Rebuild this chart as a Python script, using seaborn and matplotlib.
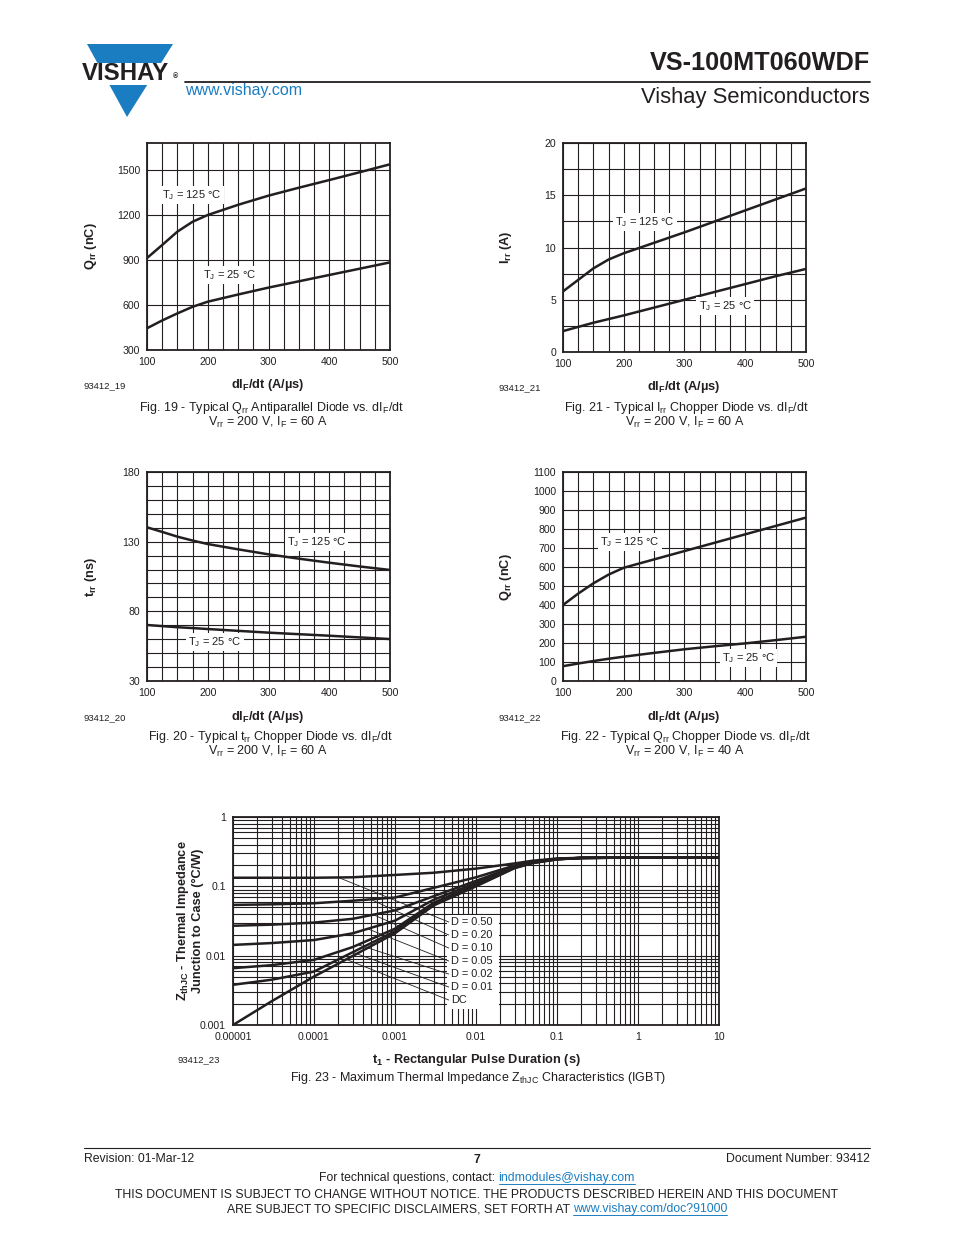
import numpy as np
import pandas as pd
import seaborn as sns
import matplotlib
matplotlib.use('Agg')
import matplotlib.pyplot as plt
from matplotlib.patches import Polygon, Rectangle

W, H = 954, 1235
INK = '#231f20'
BLUE = '#1a7dc1'

# ---- data ----
didt = [100, 125, 150, 175, 200, 250, 300, 350, 400, 450, 500]

qrr_anti_125 = [913, 1000, 1089, 1155, 1200, 1268, 1329, 1382, 1433, 1485, 1538]
qrr_anti_25 = [445, 497, 544, 588, 622, 670, 716, 758, 800, 842, 884]

irr_chop_125 = [5.8, 6.9, 8.0, 8.85, 9.45, 10.45, 11.45, 12.5, 13.55, 14.6, 15.65]
irr_chop_25 = [2.0, 2.4, 2.8, 3.15, 3.5, 4.25, 5.0, 5.75, 6.5, 7.25, 7.95]

trr_chop_125 = [140.3, 137.0, 133.6, 130.8, 128.3, 124.5, 120.9, 117.8, 114.9, 112.2, 109.7]
trr_chop_25 = [70.2, 69.4, 68.6, 68.0, 67.3, 66.0, 64.7, 63.6, 62.5, 61.3, 60.1]

qrr_chop_125 = [400, 460, 514, 560, 596, 640, 684, 728, 772, 816, 860]
qrr_chop_25 = [78, 92, 105, 117, 128, 148, 167, 183, 198, 215, 233]

t_pulse = [1e-5, 3e-5, 1e-4, 3e-4, 1e-3, 3e-3, 1e-2, 3e-2, 5e-2, 1e-1, 2e-1, 1, 10]
zth_d050 = [0.133, 0.133, 0.133, 0.135, 0.146, 0.157, 0.180, 0.214, 0.234, 0.252, 0.258, 0.26, 0.26]
zth_d020 = [0.054, 0.055, 0.057, 0.062, 0.069, 0.095, 0.135, 0.200, 0.226, 0.249, 0.257, 0.26, 0.26]
zth_d010 = [0.027, 0.028, 0.030, 0.034, 0.045, 0.072, 0.120, 0.194, 0.223, 0.248, 0.257, 0.26, 0.26]
zth_d005 = [0.0143, 0.0152, 0.0168, 0.021, 0.032, 0.064, 0.112, 0.190, 0.221, 0.247, 0.257, 0.26, 0.26]
zth_d002 = [0.0066, 0.0073, 0.0087, 0.0133, 0.0245, 0.058, 0.106, 0.187, 0.219, 0.246, 0.257, 0.26, 0.26]
zth_d001 = [0.0038, 0.0045, 0.0059, 0.0112, 0.0225, 0.056, 0.103, 0.185, 0.218, 0.246, 0.257, 0.26, 0.26]
zth_dc = [0.001, 0.0022, 0.005, 0.0099, 0.021, 0.053, 0.100, 0.183, 0.216, 0.245, 0.256, 0.26, 0.26]
duty_labels = ['D = 0.50', 'D = 0.20', 'D = 0.10', 'D = 0.05', 'D = 0.02', 'D = 0.01', 'DC']
leader_t = [2e-4, 5e-4, 5.4e-4, 4.6e-4, 3.5e-4, 3e-4, 2.5e-4]

sns.set_theme(style='white')
plt.rcParams['font.family'] = ['Liberation Sans', 'DejaVu Sans']
plt.rcParams['mathtext.fontset'] = 'custom'
plt.rcParams['mathtext.rm'] = 'Liberation Sans'
plt.rcParams['mathtext.default'] = 'regular'

fig = plt.figure(figsize=(W / 100, H / 100), dpi=100)
bg = fig.add_axes([0, 0, 1, 1])
bg.set_xlim(0, W)
bg.set_ylim(H, 0)
bg.axis('off')


def put(x, y, s, **kw):
    kw.setdefault('color', INK)
    kw.setdefault('va', 'center')
    return bg.text(x, y, s, **kw)


def px_axes(l, t, r, b):
    return fig.add_axes([l / W, 1 - b / H, (r - l) / W, (b - t) / H])


def style_axes(ax):
    for s in ax.spines.values():
        s.set_color(INK)
        s.set_linewidth(1.3)
    ax.grid(True, which='both', color=INK, lw=0.8)
    ax.set_axisbelow(True)
    ax.tick_params(which='both', length=0, labelsize=7.6, colors=INK, pad=5)
    ax.set_xlabel('')
    ax.set_ylabel('')


def diode_panel(box, y125, y25, ylim, yticks, yminor, pos125, pos25):
    ax = px_axes(*box)
    sns.lineplot(x=didt, y=y125, color=INK, lw=1.8, ax=ax)
    sns.lineplot(x=didt, y=y25, color=INK, lw=1.8, ax=ax)
    ax.set_xlim(100, 500)
    ax.set_ylim(*ylim)
    ax.set_xticks([100, 200, 300, 400, 500])
    ax.set_xticks(np.arange(125, 500, 25), minor=True)
    ax.set_yticks(yticks)
    if yminor is not None:
        ax.set_yticks(yminor, minor=True)
    style_axes(ax)
    box_kw = dict(fc='white', ec='none', pad=1.5)
    ax.text(*pos125, 'T$_J$ = 125 °C', fontsize=8, ha='center', va='center', color=INK, bbox=box_kw)
    ax.text(*pos25, 'T$_J$ = 25 °C', fontsize=8, ha='center', va='center', color=INK, bbox=box_kw)
    return ax


# Fig. 19
diode_panel((147, 143, 390, 350), qrr_anti_125, qrr_anti_25, (300, 1680),
            [300, 600, 900, 1200, 1500], None, (174, 1333), (236, 800))
# Fig. 21
diode_panel((563, 143, 806, 352), irr_chop_125, irr_chop_25, (0, 20),
            [0, 5, 10, 15, 20], np.arange(2.5, 20, 5), (235, 12.45), (367, 4.4))
# Fig. 20
diode_panel((147, 472, 390, 681), trr_chop_125, trr_chop_25, (30, 180),
            [30, 80, 130, 180], np.arange(40, 180, 10), (379, 129.5), (212, 57.8))
# Fig. 22
diode_panel((563, 472, 806, 681), qrr_chop_125, qrr_chop_25, (0, 1100),
            np.arange(0, 1101, 100), None, (210, 730), (405, 123))

# Fig. 23 thermal impedance
ax = px_axes(233, 817, 719, 1025)
ax.set_xscale('log')
ax.set_yscale('log')
zth_curves = [zth_d050, zth_d020, zth_d010, zth_d005, zth_d002, zth_d001, zth_dc]
for z in zth_curves:
    sns.lineplot(x=t_pulse, y=z, color=INK, lw=1.8, ax=ax)
ax.set_xlim(1e-5, 10)
ax.set_ylim(1e-3, 1)
xt = [1e-5, 1e-4, 1e-3, 1e-2, 1e-1, 1, 10]
ax.set_xticks(xt, labels=['0.00001', '0.0001', '0.001', '0.01', '0.1', '1', '10'])
ax.set_xticks([m * 10.0 ** e for e in range(-5, 1) for m in range(2, 10)], minor=True)
ax.set_yticks([1e-3, 1e-2, 1e-1, 1], labels=['0.001', '0.01', '0.1', '1'])
ax.set_yticks([m * 10.0 ** e for e in range(-3, 0) for m in range(2, 10)], minor=True)
ax.tick_params(which='minor', labelleft=False, labelbottom=False)
style_axes(ax)
ax.add_patch(Rectangle((0.441, 0.075), 0.106, 0.455, transform=ax.transAxes,
                       fc='white', ec='none', zorder=2.5))
for i, (lab, z, tl) in enumerate(zip(duty_labels, zth_curves, leader_t)):
    yl = 0.495 - i * 0.0625
    zl = 10 ** np.interp(np.log10(tl), np.log10(t_pulse), np.log10(z))
    ax.annotate('', xy=(tl, zl), xytext=(0.444, yl), textcoords='axes fraction',
                arrowprops=dict(arrowstyle='-', lw=0.6, color=INK, shrinkA=0, shrinkB=0),
                zorder=2.6)
    ax.text(0.449, yl, lab, transform=ax.transAxes, fontsize=7.9, va='center',
            color=INK, zorder=3)

# ---- axis labels and captions ----
lab_kw = dict(fontsize=9.2, fontweight='bold', ha='center')
cap_kw = dict(fontsize=9, ha='center')
small = dict(fontsize=6.8)

put(91, 246, 'Q$_{rr}$ (nC)', rotation=90, **lab_kw)
put(268, 385, 'dI$_F$/dt (A/µs)', **lab_kw)
put(84, 386, '93412_19', **small)
put(271, 408, 'Fig. 19 - Typical Q$_{rr}$ Antiparallel Diode vs. dI$_F$/dt', **cap_kw)
put(268, 422, 'V$_{rr}$ = 200 V, I$_F$ = 60 A', **cap_kw)

put(506, 247, 'I$_{rr}$ (A)', rotation=90, **lab_kw)
put(684, 387, 'dI$_F$/dt (A/µs)', **lab_kw)
put(499, 388, '93412_21', **small)
put(686, 408, 'Fig. 21 - Typical I$_{rr}$ Chopper Diode vs. dI$_F$/dt', **cap_kw)
put(685, 422, 'V$_{rr}$ = 200 V, I$_F$ = 60 A', **cap_kw)

put(91, 577, 't$_{rr}$ (ns)', rotation=90, **lab_kw)
put(268, 717, 'dI$_F$/dt (A/µs)', **lab_kw)
put(84, 718, '93412_20', **small)
put(270, 737, 'Fig. 20 - Typical t$_{rr}$ Chopper Diode vs. dI$_F$/dt', **cap_kw)
put(268, 751, 'V$_{rr}$ = 200 V, I$_F$ = 60 A', **cap_kw)

put(506, 577, 'Q$_{rr}$ (nC)', rotation=90, **lab_kw)
put(684, 717, 'dI$_F$/dt (A/µs)', **lab_kw)
put(499, 718, '93412_22', **small)
put(686, 737, 'Fig. 22 - Typical Q$_{rr}$ Chopper Diode vs. dI$_F$/dt', **cap_kw)
put(685, 751, 'V$_{rr}$ = 200 V, I$_F$ = 40 A', **cap_kw)

put(183, 921, 'Z$_{thJC}$ - Thermal Impedance', rotation=90, **lab_kw)
put(198, 921, 'Junction to Case (°C/W)', rotation=90, **lab_kw)
put(476, 1060, 't$_1$ - Rectangular Pulse Duration (s)', **lab_kw)
put(178, 1060, '93412_23', **small)
put(478, 1078, 'Fig. 23 - Maximum Thermal Impedance Z$_{thJC}$ Characteristics (IGBT)', **cap_kw)

# ---- header ----
bg.add_patch(Polygon([(87, 44), (173, 44), (127, 117)], closed=True, fc=BLUE, ec='none'))
bg.add_patch(Rectangle((80, 62.5), 100, 22, fc='white', ec='none'))
put(82, 73.5, 'VISHAY', fontsize=17.3, fontweight='bold', color='#231f20')
put(172.5, 77, '®', fontsize=5, fontweight='bold')
bg.plot([185, 870], [82, 82], color=INK, lw=1.3)
put(185, 91, 'www.vishay.com', fontsize=11.5, color=BLUE)
put(870, 63, 'VS-100MT060WDF', fontsize=18.2, fontweight='bold', ha='right')
put(870, 97, 'Vishay Semiconductors', fontsize=15.8, ha='right')

# ---- footer ----
bg.plot([84, 870], [1148, 1148], color=INK, lw=0.8)
put(84, 1159, 'Revision: 01-Mar-12', fontsize=8.8)
put(477, 1160, '7', fontsize=8.8, fontweight='bold', ha='center')
put(870, 1159, 'Document Number: 93412', fontsize=8.8, ha='right')

fig.canvas.draw()
rend = fig.canvas.get_renderer()


def mixed_line(y, parts, cx, fs=8.8):
    items = []
    for s, col, link in parts:
        t = put(0, y, s, fontsize=fs, color=col)
        items.append((t, t.get_window_extent(rend).width, link, col))
    gap = 3.5
    total = sum(w for _, w, _, _ in items) + gap * (len(items) - 1)
    x = cx - total / 2
    for t, w, link, col in items:
        t.set_x(x)
        if link:
            bg.plot([x, x + w], [y + 6, y + 6], color=col, lw=0.7)
        x += w + gap


mixed_line(1178, [('For technical questions, contact:', INK, False),
                  ('indmodules@vishay.com', BLUE, True)], 477)
put(477, 1195, 'THIS DOCUMENT IS SUBJECT TO CHANGE WITHOUT NOTICE. THE PRODUCTS DESCRIBED HEREIN AND THIS DOCUMENT',
    fontsize=8.8, ha='center')
mixed_line(1209, [('ARE SUBJECT TO SPECIFIC DISCLAIMERS, SET FORTH AT', INK, False),
                  ('www.vishay.com/doc?91000', BLUE, True)], 477)

fig.savefig('out.png', dpi=100, facecolor='white')
